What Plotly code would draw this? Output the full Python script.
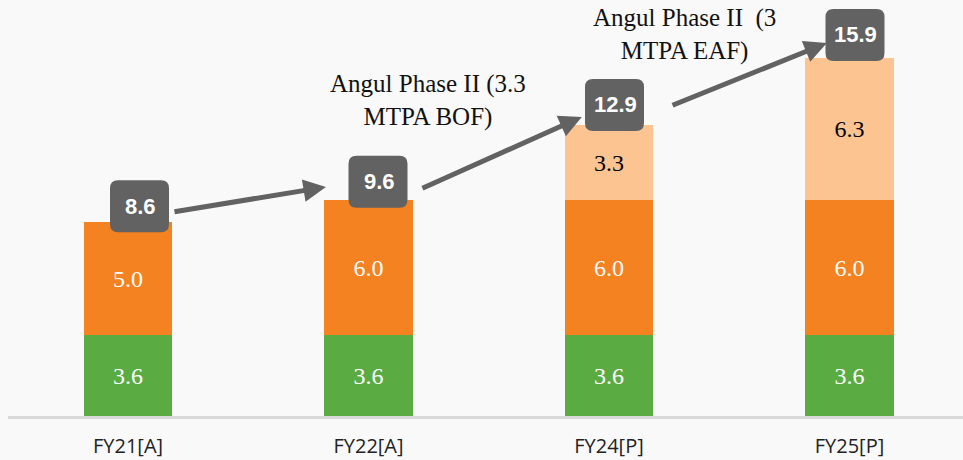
import plotly.graph_objects as go

categories = ["FY21[A]", "FY22[A]", "FY24[P]", "FY25[P]"]
base_capacity = [3.6, 3.6, 3.6, 3.6]
phase_one = [5.0, 6.0, 6.0, 6.0]
phase_two = [0.0, 0.0, 3.3, 6.3]
totals = [8.6, 9.6, 12.9, 15.9]

note_bof = "Angul Phase II (3.3<br>MTPA BOF)"
note_eaf = "Angul Phase II\u00a0\u00a0(3<br>MTPA EAF)"

GREEN = "#5aab41"
ORANGE = "#f58220"
PEACH = "#fbc490"
BOX = "#626262"
BG = "#f9f9f9"

x = list(range(len(categories)))


def seg_text(vals):
    return [f"{v:.1f}" if v > 0 else "" for v in vals]


fig = go.Figure()
for vals, color, txt_color in [
    (base_capacity, GREEN, "white"),
    (phase_one, ORANGE, "white"),
    (phase_two, PEACH, "black"),
]:
    fig.add_trace(
        go.Bar(
            x=x,
            y=vals,
            width=0.366,
            marker=dict(color=color, line=dict(width=0)),
            text=seg_text(vals),
            textposition="inside",
            insidetextanchor="middle",
            textangle=0,
            textfont=dict(family="Liberation Serif", size=24, color=txt_color),
            hoverinfo="skip",
        )
    )

# total badges: pixel offsets from bar top (dx right, lift up)
box_dx = [11.5, 9.5, 5.5, 5.5]
box_lift = [16, 18, 20.5, 23]
bw, bh, r = 59, 52, 8
for i, tot in enumerate(totals):
    cx, cy = box_dx[i], box_lift[i]
    x0, x1 = cx - bw / 2, cx + bw / 2
    y0, y1 = cy - bh / 2, cy + bh / 2
    path = (
        f"M{x0 + r},{y0} L{x1 - r},{y0} Q{x1},{y0} {x1},{y0 + r} "
        f"L{x1},{y1 - r} Q{x1},{y1} {x1 - r},{y1} L{x0 + r},{y1} "
        f"Q{x0},{y1} {x0},{y1 - r} L{x0},{y0 + r} Q{x0},{y0} {x0 + r},{y0} Z"
    )
    fig.add_shape(
        type="path",
        xref="x",
        yref="y",
        xsizemode="pixel",
        ysizemode="pixel",
        xanchor=i,
        yanchor=tot,
        path=path,
        fillcolor=BOX,
        line=dict(width=0),
        layer="above",
    )
    fig.add_annotation(
        x=i,
        y=tot,
        xshift=cx + 1,
        yshift=cy,
        text=f"<b>{tot:.1f}</b>",
        showarrow=False,
        font=dict(family="Liberation Sans", size=22, color="white"),
    )

# connector arrows (tail -> head, data coords)
arrows = [
    ((0.187, 9.06), (0.823, 10.17)),
    ((1.218, 10.08), (1.887, 13.28)),
    ((2.258, 13.77), (2.906, 16.56)),
]
for (tx, ty), (hx, hy) in arrows:
    fig.add_annotation(
        x=hx,
        y=hy,
        ax=tx,
        ay=ty,
        xref="x",
        yref="y",
        axref="x",
        ayref="y",
        text="",
        showarrow=True,
        arrowhead=2,
        arrowsize=0.9,
        arrowwidth=5,
        arrowcolor=BOX,
    )

for txt, nx, ny in [(note_bof, 1.247, 14.03), (note_eaf, 2.316, 16.92)]:
    fig.add_annotation(
        x=nx,
        y=ny,
        text=txt,
        showarrow=False,
        font=dict(family="Liberation Serif", size=25, color="#111111"),
        align="center",
    )

# baseline just under the bars
fig.add_shape(
    type="line",
    xref="paper",
    yref="paper",
    x0=0,
    x1=1,
    y0=-0.0036,
    y1=-0.0036,
    line=dict(color="#d9d9d9", width=3),
)

fig.update_layout(
    barmode="stack",
    width=963,
    height=460,
    margin=dict(l=8, r=0, t=0, b=44),
    paper_bgcolor=BG,
    plot_bgcolor=BG,
    showlegend=False,
    bargap=0,
)
fig.update_xaxes(
    range=[-0.499, 3.472],
    tickvals=x,
    ticktext=categories,
    showgrid=False,
    zeroline=False,
    showline=False,
    ticks="",
    ticklabelstandoff=16,
    tickfont=dict(family="Open Sans", size=20, color="#222222"),
)
fig.update_yaxes(range=[0, 18.47], visible=False)

fig.write_html(
    "out.html",
    config={"displayModeBar": False},
    post_script="document.body.style.margin='0';document.body.style.overflow='hidden';",
)
